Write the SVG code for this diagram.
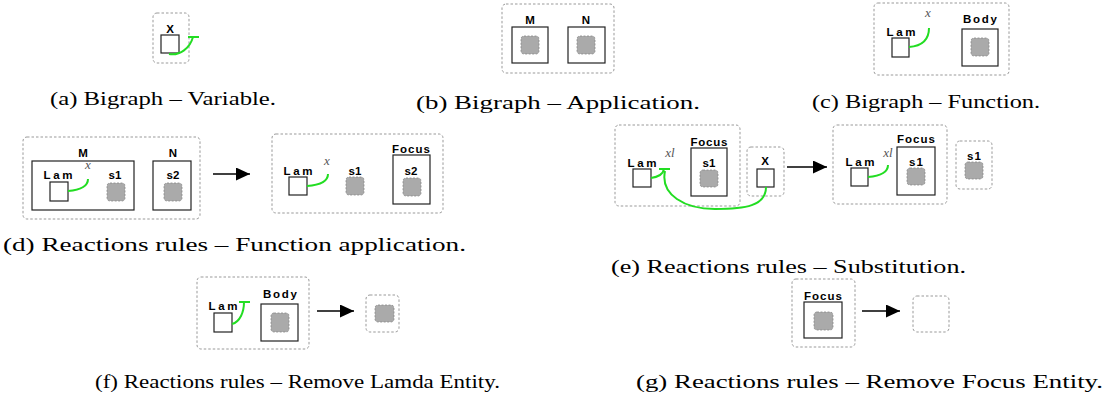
<svg xmlns="http://www.w3.org/2000/svg" width="1103" height="393" viewBox="0 0 1103 393">
<style>
.outer{fill:none;stroke:#999;stroke-width:1;stroke-dasharray:2.5,2}
.box{fill:#fff;stroke:#222;stroke-width:1.2}
.site{fill:#aaa;stroke:#888;stroke-width:0.8;stroke-dasharray:2,1.5}
.link{fill:none;stroke:#22dd22;stroke-width:2}
.lbl{font-family:"Liberation Sans",Arial,sans-serif;font-weight:bold;font-size:11.5px;fill:#000;text-anchor:middle}
.var{font-family:"Liberation Serif","Times New Roman",serif;font-style:italic;font-size:13px;fill:#555;text-anchor:middle}
.cap{font-family:"Liberation Serif","Times New Roman",serif;font-size:18.5px;fill:#000}
.arr{stroke:#000;stroke-width:1.3;fill:none}
</style>
<defs>
<marker id="ah" markerUnits="userSpaceOnUse" markerWidth="15" markerHeight="13" refX="14" refY="6.5" orient="auto">
<path d="M0,0 L14,6.5 L0,13 z" fill="#000"/>
</marker>
</defs>

<!-- (a) -->
<g id="a-variable">
<rect class="outer" x="153" y="13" width="36" height="50" rx="4"/>
<text class="lbl" x="170" y="33">X</text>
<rect class="box" x="161" y="35" width="18" height="18"/>
</g>

<!-- (b) -->
<g id="b-application">
<rect class="outer" x="502" y="4" width="112" height="69" rx="4"/>
<g id="b-M"><text class="lbl" x="530" y="24">M</text>
<rect class="box" x="512" y="27" width="36" height="36"/>
<rect class="site" x="521" y="36" width="18" height="18" rx="3"/></g>
<g id="b-N"><text class="lbl" x="586" y="24">N</text>
<rect class="box" x="568" y="27" width="37" height="36"/>
<rect class="site" x="577" y="36" width="18" height="18" rx="3"/></g>
</g>

<!-- (c) -->
<g id="c-function">
<rect class="outer" x="874" y="3" width="135" height="72" rx="4"/>
<g id="c-lam"><text class="lbl" x="901" y="36" textLength="29">Lam</text>
<rect class="box" x="892" y="38" width="17" height="19"/></g>
<text class="var" x="928" y="17">x</text>
<g id="c-body"><text class="lbl" x="980" y="23" textLength="34">Body</text>
<rect class="box" x="962" y="29" width="36" height="37"/>
<rect class="site" x="971" y="38" width="18" height="18" rx="3"/></g>
</g>

<!-- (d) left -->
<g id="d-left">
<rect class="outer" x="23" y="137" width="177" height="82" rx="4"/>
<g id="d-M"><text class="lbl" x="83" y="157">M</text>
<rect class="box" x="32" y="161" width="102" height="49"/>
<text class="lbl" x="58" y="179" textLength="29">Lam</text>
<rect class="box" x="50" y="182" width="18" height="19"/>
<text class="var" x="88" y="169">x</text>
<text class="lbl" x="115" y="179" textLength="13">s1</text>
<rect class="site" x="107" y="183" width="18" height="18" rx="3"/></g>
<g id="d-N"><text class="lbl" x="173" y="157">N</text>
<rect class="box" x="153" y="161" width="38" height="49"/>
<text class="lbl" x="173" y="179" textLength="13">s2</text>
<rect class="site" x="164" y="183" width="18" height="18" rx="3"/></g>
</g>

<!-- (d) right -->
<g id="d-right">
<rect class="outer" x="272" y="134" width="171" height="79" rx="4"/>
<text class="lbl" x="298" y="175" textLength="29">Lam</text>
<rect class="box" x="289" y="177" width="18" height="18"/>
<text class="var" x="327" y="165">x</text>
<text class="lbl" x="355" y="175" textLength="13">s1</text>
<rect class="site" x="346" y="177" width="18" height="18" rx="3"/>
<g id="d-focus"><text class="lbl" x="411" y="152.5" textLength="38">Focus</text>
<rect class="box" x="393" y="155" width="37" height="49"/>
<text class="lbl" x="411" y="175" textLength="13">s2</text>
<rect class="site" x="403" y="178" width="18" height="18" rx="3"/></g>
</g>

<!-- (e) left -->
<g id="e-left">
<rect class="outer" x="615" y="125" width="125" height="81" rx="4"/>
<text class="lbl" x="642" y="166.5" textLength="29">Lam</text>
<rect class="box" x="633" y="169" width="18" height="18"/>
<text class="var" x="670" y="157">xl</text>
<g id="e-focus"><text class="lbl" x="709" y="146" textLength="37">Focus</text>
<rect class="box" x="691" y="148" width="36" height="48"/>
<text class="lbl" x="709" y="166.5" textLength="13">s1</text>
<rect class="site" x="700" y="170" width="18" height="17" rx="3"/></g>
</g>
<g id="e-X">
<rect class="outer" x="747" y="147" width="37" height="49" rx="4"/>
<text class="lbl" x="765" y="165">X</text>
<rect class="box" x="757" y="169" width="17" height="18"/>
</g>

<!-- (e) right -->
<g id="e-right">
<rect class="outer" x="833" y="125" width="114" height="79" rx="4"/>
<text class="lbl" x="860" y="166" textLength="29">Lam</text>
<rect class="box" x="851" y="168" width="17" height="18"/>
<text class="var" x="888" y="156.5">xl</text>
<g id="e-focus2"><text class="lbl" x="916" y="143" textLength="38">Focus</text>
<rect class="box" x="897" y="147" width="38" height="48"/>
<text class="lbl" x="916" y="166" textLength="14">s1</text>
<rect class="site" x="907" y="168" width="18" height="17" rx="3"/></g>
</g>
<g id="e-s1">
<rect class="outer" x="956" y="141" width="36" height="48" rx="4"/>
<text class="lbl" x="974" y="160" textLength="14">s1</text>
<rect class="site" x="965" y="162" width="18" height="17" rx="3"/>
</g>

<!-- (f) -->
<g id="f-left">
<rect class="outer" x="197" y="277" width="112" height="72" rx="4"/>
<text class="lbl" x="223" y="310" textLength="29">Lam</text>
<rect class="box" x="214" y="313" width="18" height="19"/>
<g id="f-body"><text class="lbl" x="280" y="298" textLength="34">Body</text>
<rect class="box" x="261" y="304" width="37" height="37"/>
<rect class="site" x="271" y="313" width="18" height="19" rx="3"/></g>
</g>
<g id="f-right">
<rect class="outer" x="366" y="295" width="33" height="37" rx="4"/>
<rect class="site" x="375" y="305" width="19" height="17" rx="3"/>
</g>

<!-- (g) -->
<g id="g-left">
<rect class="outer" x="792" y="279" width="63" height="68" rx="4"/>
<text class="lbl" x="823" y="300" textLength="38">Focus</text>
<rect class="box" x="804" y="302" width="38" height="36"/>
<rect class="site" x="814" y="312" width="19" height="18" rx="3"/>
</g>
<g id="g-right">
<rect class="outer" x="913" y="296" width="36" height="36" rx="4"/>
</g>

<!-- connectors -->
<g id="connectors">
<path class="link" d="M169,54 C180,56 190,48 193,37"/>
<path class="link" d="M188,37 L199,37"/>
<path class="link" d="M909,47 C922,46 929,40 929,28"/>
<path class="link" d="M68,191 C80,190 88,186 88,179"/>
<path class="link" d="M307,186 C320,185 328,182 328,174"/>
<path class="link" d="M651,178 C658,177 663,175 664,169"/>
<path class="link" d="M659,169 L670,169"/>
<path class="link" d="M665,171 C660,195 685,209 715,209 C745,209 766,206 766,187"/>
<path class="link" d="M868,177 C880,176 888,172 888,165"/>
<path class="link" d="M232,324 C240,322 244,312 244,302"/>
<path class="link" d="M239,302 L250,302"/>
<line class="arr" x1="213" y1="174" x2="250" y2="174" marker-end="url(#ah)"/>
<line class="arr" x1="787" y1="167" x2="827" y2="167" marker-end="url(#ah)"/>
<line class="arr" x1="317" y1="311" x2="354" y2="311" marker-end="url(#ah)"/>
<line class="arr" x1="862" y1="311" x2="900" y2="311" marker-end="url(#ah)"/>
</g>

<!-- captions -->
<text class="cap" x="50" y="105" textLength="226" lengthAdjust="spacingAndGlyphs">(a) Bigraph – Variable.</text>
<text class="cap" x="416" y="109" textLength="284" lengthAdjust="spacingAndGlyphs">(b) Bigraph – Application.</text>
<text class="cap" x="812" y="108" textLength="228" lengthAdjust="spacingAndGlyphs">(c) Bigraph – Function.</text>
<text class="cap" x="3" y="251" textLength="463" lengthAdjust="spacingAndGlyphs">(d) Reactions rules – Function application.</text>
<text class="cap" x="611" y="273" textLength="355" lengthAdjust="spacingAndGlyphs">(e) Reactions rules – Substitution.</text>
<text class="cap" x="95" y="388" textLength="405" lengthAdjust="spacingAndGlyphs">(f) Reactions rules – Remove Lamda Entity.</text>
<text class="cap" x="636" y="388" textLength="467" lengthAdjust="spacingAndGlyphs">(g) Reactions rules – Remove Focus Entity.</text>
</svg>
